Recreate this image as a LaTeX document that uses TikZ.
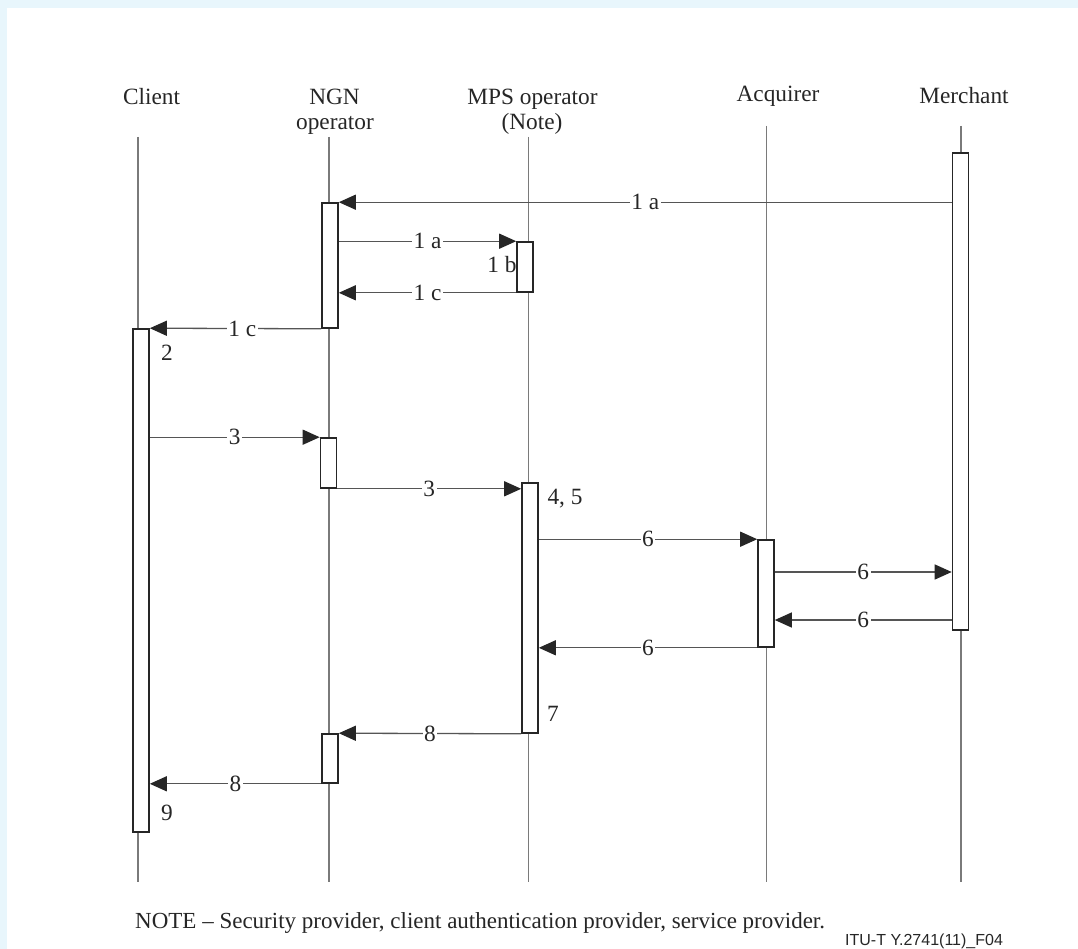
\documentclass[tikz,border=0pt]{standalone}
\usepackage{fontspec}
\setmainfont{Liberation Serif}
\newfontfamily\arialfont{Liberation Sans}
\usetikzlibrary{arrows.meta}
\definecolor{bgblue}{HTML}{E8F6FC}
\definecolor{lifegray}{HTML}{7A7A7A}
\definecolor{msggray}{HTML}{555555}
\definecolor{inkdark}{HTML}{262626}
\tikzset{
  txt/.style={font=\fontsize{23.3}{26}\selectfont, text=inkdark, inner sep=0pt},
  hdr/.style={txt, anchor=base},
  lifeline/.style={draw=lifegray, line width=1.3pt},
  actbox/.style={draw=inkdark, fill=white, line width=1.6pt, inner sep=0pt,
                 minimum width=16pt, rectangle},
  msg/.style={draw=msggray, line width=1.3pt,
              -{Triangle[length=17pt,width=15pt,color=inkdark,fill=inkdark]}},
  mlabel/.style={txt, fill=white, inner sep=1.5pt},
}
\begin{document}
\begin{tikzpicture}[x=1pt,y=-1pt]
  % canvas
  \fill[bgblue] (0,0) rectangle (1078,949);
  \fill[white] (7,8) rectangle (1078,949);
  \useasboundingbox (0,0) rectangle (1078,949);

  % participants
  \node[hdr] (hCli) at (151.5,105) {Client};
  \node[hdr] (hNgn) at (334.5,105) {NGN};
  \node[hdr] (hNgnb) at (335,130) {operator};
  \node[hdr] (hMps) at (532.5,105) {MPS operator};
  \node[hdr] (hMpsb) at (532,130) {(Note)};
  \node[hdr] (hAcq) at (778,102) {Acquirer};
  \node[hdr] (hMer) at (964,104) {Merchant};

  % lifelines
  \coordinate (cliTop) at (138,137);  \coordinate (cliBot) at (138,882);
  \coordinate (ngnTop) at (329,137);  \coordinate (ngnBot) at (329,882);
  \coordinate (mpsTop) at (528.5,137);\coordinate (mpsBot) at (528.5,882);
  \coordinate (acqTop) at (766.5,126);\coordinate (acqBot) at (766.5,882);
  \coordinate (merTop) at (961,126);  \coordinate (merBot) at (961,882);
  \draw[lifeline] (cliTop) -- (cliBot);
  \draw[lifeline] (ngnTop) -- (ngnBot);
  \draw[lifeline] (mpsTop) -- (mpsBot);
  \draw[lifeline] (acqTop) -- (acqBot);
  \draw[lifeline] (merTop) -- (merBot);

  % activation bars
  \node[actbox, minimum height=477pt] (mer)  at (960.5,391.5) {};
  \node[actbox, minimum height=125pt] (ngnA) at (330,265.5) {};
  \node[actbox, minimum height=50pt]  (mpsA) at (525,267) {};
  \node[actbox, minimum height=503pt] (cli)  at (141,580.5) {};
  \node[actbox, minimum height=50pt]  (ngnB) at (328.5,463) {};
  \node[actbox, minimum height=250pt] (mpsB) at (530,608) {};
  \node[actbox, minimum height=107pt] (acq)  at (766,593.5) {};
  \node[actbox, minimum height=49pt]  (ngnC) at (330,758.5) {};

  % heights of the two Acquirer-Merchant exchanges
  \coordinate (y6a) at (0,572);
  \coordinate (y6b) at (0,620);

  % messages
  \draw[msg] (mer.west |- ngnA.north) -- (ngnA.north east)
    node[mlabel, pos=0.5] {1 a};
  \draw[msg] (ngnA.east |- mpsA.north) -- (mpsA.north west)
    node[mlabel, pos=0.5] {1 a};
  \draw[msg] (mpsA.south west) -- (ngnA.east |- mpsA.south)
    node[mlabel, pos=0.5] {1 c};
  \draw[msg] (ngnA.south west) -- (cli.north east)
    node[mlabel, pos=0.46] {1 c};
  \draw[msg] (cli.east |- ngnB.north) -- (ngnB.north west)
    node[mlabel, pos=0.5] {3};
  \draw[msg] (ngnB.south east) -- (mpsB.west |- ngnB.south)
    node[mlabel, pos=0.5] {3};
  \draw[msg] (mpsB.east |- acq.north) -- (acq.north west)
    node[mlabel, pos=0.5] {6};
  \draw[msg] (acq.east |- y6a) -- (mer.west |- y6a)
    node[mlabel, pos=0.5] {6};
  \draw[msg] (mer.west |- y6b) -- (acq.east |- y6b)
    node[mlabel, pos=0.5] {6};
  \draw[msg] (acq.south west) -- (mpsB.east |- acq.south)
    node[mlabel, pos=0.5] {6};
  \draw[msg] (mpsB.south west) -- (ngnC.north east)
    node[mlabel, pos=0.5] {8};
  \draw[msg] (ngnC.south west) -- (cli.east |- ngnC.south)
    node[mlabel, pos=0.5] {8};

  % step numbers
  \node[txt] (s1b) at (502,265) {1 b};
  \node[txt] (s2)  at (167,353) {2};
  \node[txt] (s45) at (565,499) {4, 5};
  \node[txt] (s7)  at (553,714) {7};
  \node[txt] (s9)  at (167,813) {9};

  % note and figure reference
  \node[hdr, anchor=base west, font=\fontsize{23}{26}\selectfont] (note) at (135,928)
    {NOTE -- Security provider, client authentication provider, service provider.};
  \node[anchor=base west, inner sep=0pt, text=inkdark,
        font=\arialfont\fontsize{16}{18}\selectfont] (fig) at (845,945.5)
    {ITU-T Y.2741(11)\_F04};
\end{tikzpicture}
\end{document}
